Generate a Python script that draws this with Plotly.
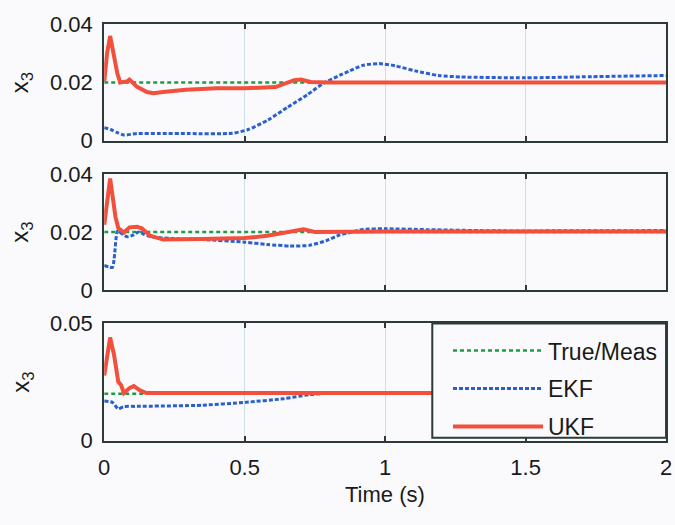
import plotly.graph_objects as go

# ---------------- data ----------------
t_true = [0, 2]
true_meas = [0.02, 0.02]

t_top_ekf = [0, 0.023, 0.047, 0.07, 0.117, 0.2, 0.3, 0.455, 0.513, 0.583, 0.653, 0.723, 0.78, 0.839,
             0.874, 0.92, 0.979, 1.037, 1.107, 1.19, 1.27, 1.5, 1.736, 2.0]
top_ekf = [0.0044, 0.0038, 0.0027, 0.0019, 0.0024, 0.0024, 0.0024, 0.0025, 0.0038, 0.0071, 0.0115,
           0.0158, 0.0197, 0.0225, 0.024, 0.0259, 0.0265, 0.0257, 0.024, 0.0224, 0.0219, 0.0216, 0.022, 0.0224]
t_top_ukf = [0, 0.01, 0.021, 0.035, 0.047, 0.057, 0.08, 0.09, 0.117, 0.152, 0.175, 0.21, 0.29, 0.4,
             0.5, 0.61, 0.676, 0.70, 0.735, 0.8, 1.0, 1.5, 2.0]
top_ukf = [0.0202, 0.030, 0.036, 0.028, 0.023, 0.020, 0.0203, 0.021, 0.0185, 0.0167, 0.0163, 0.0167,
           0.0175, 0.018, 0.018, 0.0184, 0.0208, 0.021, 0.0202, 0.020, 0.020, 0.020, 0.020]

t_mid_ekf = [0, 0.029, 0.035, 0.047, 0.055, 0.08, 0.105, 0.122, 0.14, 0.163, 0.233, 0.35, 0.5, 0.58,
             0.66, 0.73, 0.79, 0.839, 0.874, 0.92, 1.0, 1.15, 1.4, 2.0]
mid_ekf = [0.0085, 0.0078, 0.0105, 0.0203, 0.020, 0.0184, 0.019, 0.020, 0.0193, 0.0184, 0.0178, 0.0174,
           0.0165, 0.0157, 0.0152, 0.0154, 0.017, 0.019, 0.0198, 0.0209, 0.0211, 0.0208, 0.0204, 0.0205]
t_mid_ukf = [0, 0.021, 0.04, 0.05, 0.07, 0.09, 0.117, 0.134, 0.163, 0.21, 0.35, 0.5, 0.58, 0.66, 0.71,
             0.75, 1.0, 1.5, 2.0]
mid_ukf = [0.0225, 0.0384, 0.0252, 0.0214, 0.0198, 0.0216, 0.0218, 0.0213, 0.0187, 0.0174, 0.0176,
           0.0179, 0.0187, 0.0201, 0.0209, 0.0200, 0.0202, 0.0202, 0.0202]

t_bot_ekf = [0, 0.029, 0.05, 0.07, 0.117, 0.35, 0.5, 0.64, 0.73, 0.815, 1.0, 1.5, 2.0]
bot_ekf = [0.0169, 0.0163, 0.0136, 0.0145, 0.0146, 0.0151, 0.0163, 0.0179, 0.0196, 0.0203, 0.0203,
           0.0203, 0.0203]
t_bot_ukf = [0, 0.021, 0.035, 0.05, 0.06, 0.07, 0.09, 0.105, 0.126, 0.15, 0.5, 1.0, 1.5, 2.0]
bot_ukf = [0.0278, 0.044, 0.0366, 0.0251, 0.0237, 0.0203, 0.0224, 0.0233, 0.0215, 0.0203, 0.0203,
           0.0203, 0.0203, 0.0203]

series_names = ["True/Meas", "EKF", "UKF"]
x_ticks = [0, 0.5, 1, 1.5, 2]
x_tick_text = ["0", "0.5", "1", "1.5", "2"]
y_ticks_top = [0, 0.02, 0.04]
y_tick_text_top = ["0", "0.02", "0.04"]
y_ticks_bot = [0, 0.05]
y_tick_text_bot = ["0", "0.05"]

# ---------------- styles ----------------
GREEN = "#1f9a46"
BLUE = "#2a5fd0"
RED = "#f2503c"
FRAME = "#2e3a3a"
GRID = "#cddfe9"
BG = "#fafafc"
FONT = "Liberation Sans, Arial, sans-serif"
TXT = "#1a1a1a"

fig = go.Figure()

panels = [
    ("", "y", t_top_ekf, top_ekf, t_top_ukf, top_ukf),
    ("2", "y2", t_mid_ekf, mid_ekf, t_mid_ukf, mid_ukf),
    ("3", "y3", t_bot_ekf, bot_ekf, t_bot_ukf, bot_ukf),
]

for i, (xs, ya, te, ve, tu, vu) in enumerate(panels):
    xa = "x" + xs
    show = (i == 2)
    fig.add_trace(go.Scatter(x=t_true, y=true_meas, mode="lines", name=series_names[0],
                             line=dict(color=GREEN, width=2.5, dash="4px,3px"), legendgroup="g1",
                             xaxis=xa, yaxis=ya, showlegend=show, legendrank=1))
    fig.add_trace(go.Scatter(x=te, y=ve, mode="lines", name=series_names[1],
                             line=dict(color=BLUE, width=3, dash="4px,2px", shape="spline", smoothing=0.6),
                             legendgroup="g2", xaxis=xa, yaxis=ya, showlegend=show, legendrank=2))
    fig.add_trace(go.Scatter(x=tu, y=vu, mode="lines", name=series_names[2],
                             line=dict(color=RED, width=4), legendgroup="g3",
                             xaxis=xa, yaxis=ya, showlegend=show, legendrank=3))

W, H = 675, 525
xdom = [100 / W, 672 / W]
ydoms = [[1 - 135 / H, 1 - 13 / H], [1 - 292 / H, 1 - 170 / H], [1 - 450 / H, 1 - 327 / H]]

common_x = dict(range=[0, 2], domain=xdom, showline=True, mirror="ticks", linecolor=FRAME, linewidth=2,
                showgrid=True, gridcolor=GRID, gridwidth=1, zeroline=False, ticks="inside", ticklen=5,
                tickcolor=FRAME, tickwidth=2, tickvals=x_ticks, ticktext=x_tick_text,
                ticklabeloverflow="allow", ticklabelstandoff=6,
                tickfont=dict(size=22, color=TXT, family=FONT))
common_y = dict(showline=True, mirror=True, linecolor=FRAME, linewidth=2, showgrid=False, zeroline=False,
                ticks="", ticklabelstandoff=5, tickfont=dict(size=22, color=TXT, family=FONT))

layout = dict(
    width=W, height=H, margin=dict(l=0, r=0, t=0, b=0),
    paper_bgcolor=BG, plot_bgcolor=BG,
    font=dict(family=FONT, size=22, color=TXT),
    xaxis=dict(common_x, anchor="y", showticklabels=False),
    xaxis2=dict(common_x, anchor="y2", showticklabels=False),
    xaxis3=dict(common_x, anchor="y3", showticklabels=True),
    yaxis=dict(common_y, domain=ydoms[0], anchor="x", range=[0, 0.04], tickvals=y_ticks_top, ticktext=y_tick_text_top),
    yaxis2=dict(common_y, domain=ydoms[1], anchor="x2", range=[0, 0.04], tickvals=y_ticks_top, ticktext=y_tick_text_top),
    yaxis3=dict(common_y, domain=ydoms[2], anchor="x3", range=[0, 0.05], tickvals=y_ticks_bot, ticktext=y_tick_text_bot),
    legend=dict(x=450 / W, y=1 - 333 / H, xanchor="left", yanchor="top", bgcolor="rgba(0,0,0,0)",
                borderwidth=0, font=dict(size=23, family=FONT, color=TXT), itemwidth=90,
                tracegroupgap=5),
    showlegend=True,
)
fig.update_layout(**layout)

# legend frame (box behind legend entries, covering the lower panel)
fig.add_shape(type="rect", xref="paper", yref="paper", x0=434 / W, x1=672 / W,
              y0=1 - 447 / H, y1=1 - 327 / H, fillcolor=BG, line=dict(color=FRAME, width=2), layer="above")

annots = []
for d in ydoms:
    annots.append(dict(text="x<sub>3</sub>", x=16 / W, y=(d[0] + d[1]) / 2, xref="paper", yref="paper",
                       showarrow=False, textangle=-90, xanchor="center", yanchor="middle",
                       font=dict(size=24, family=FONT, color=TXT)))
annots.append(dict(text="Time (s)", x=386 / W, y=1 - 507 / H, xref="paper", yref="paper",
                   showarrow=False, xanchor="center", yanchor="middle", font=dict(size=22, family=FONT, color=TXT)))
fig.update_layout(annotations=annots)

fig.write_html("out.html")
